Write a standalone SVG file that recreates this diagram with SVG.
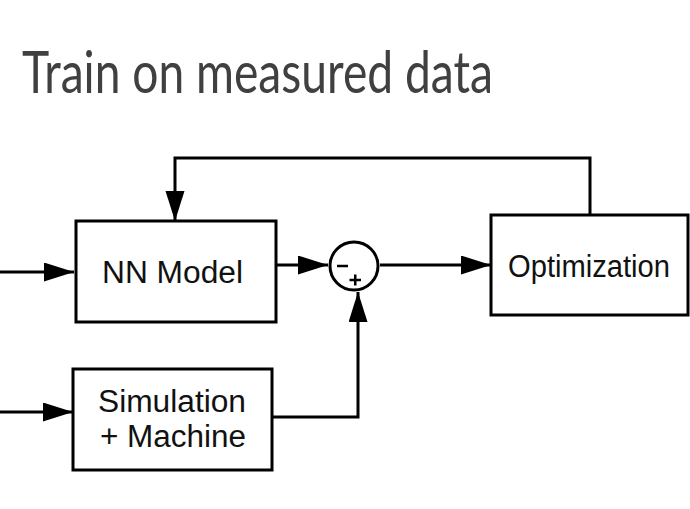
<svg xmlns="http://www.w3.org/2000/svg" width="690" height="509" viewBox="0 0 690 509">
<style>
.box{fill:#fff;stroke:#000;stroke-width:3}
.lbl{font-family:"Liberation Sans",Arial,sans-serif;font-size:31px;fill:#111;text-anchor:middle}
.wire{fill:none;stroke:#000;stroke-width:3}
.title{font-family:Lato,"Open Sans",sans-serif;font-size:58px;fill:#404040}
</style>
<defs>
<marker id="ah" markerUnits="userSpaceOnUse" markerWidth="31" markerHeight="20" refX="30" refY="9.5" orient="auto">
<path d="M0,0 L30,9.5 L0,19 z" fill="#000"/>
</marker>
</defs>
<rect width="690" height="509" fill="#fff"/>
<text class="title" x="22" y="93" textLength="471" lengthAdjust="spacingAndGlyphs">Train on measured data</text>
<g id="connectors">
<path class="wire" d="M0,272 H74" marker-end="url(#ah)"/>
<path class="wire" d="M0,412 H73" marker-end="url(#ah)"/>
<path class="wire" d="M590,215 V158 H175 V221" marker-end="url(#ah)"/>
<path class="wire" d="M276,265 H328" marker-end="url(#ah)"/>
<path class="wire" d="M380,265 H491" marker-end="url(#ah)"/>
<path class="wire" d="M272,417 H358 V292" marker-end="url(#ah)"/>
</g>
<g id="nn-model">
<rect class="box" x="76" y="221" width="200" height="101"/>
<text class="lbl" x="172.5" y="283" textLength="141" lengthAdjust="spacingAndGlyphs">NN Model</text>
</g>
<g id="simulation">
<rect class="box" x="73" y="369" width="199" height="101"/>
<text class="lbl" x="172" y="412" textLength="148" lengthAdjust="spacingAndGlyphs">Simulation</text>
<text class="lbl" x="173" y="447" textLength="146" lengthAdjust="spacingAndGlyphs">+ Machine</text>
</g>
<g id="optimization">
<rect class="box" x="491" y="215" width="197" height="100"/>
<text class="lbl" x="589" y="277" textLength="162" lengthAdjust="spacingAndGlyphs">Optimization</text>
</g>
<g id="sum">
<circle cx="354" cy="266" r="24" fill="#fff" stroke="#000" stroke-width="3"/>
<path d="M337,266 H348 M349.5,280 H361 M355.25,274.5 V285.5" stroke="#000" stroke-width="2.5" fill="none"/>
</g>
</svg>
